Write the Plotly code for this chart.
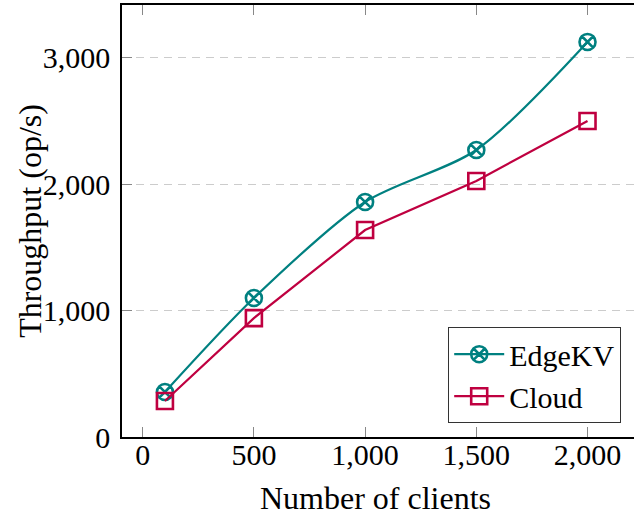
import plotly.graph_objects as go

clients = [100, 500, 1000, 1500, 2000]
edgekv = [356, 1099, 1858, 2269, 3123]
cloud = [285, 940, 1636, 2024, 2498]
y_ticks = [0, 1000, 2000, 3000]
x_ticks = [0, 500, 1000, 1500, 2000]

TEAL = "#008080"
PURPLE = "#BF0040"
FONT = "Liberation Serif"

fig = go.Figure()
fig.add_trace(go.Scatter(
    x=clients, y=edgekv, name="EdgeKV", mode="lines+markers",
    line=dict(color=TEAL, width=2.2, shape="spline", smoothing=0.8),
    marker=dict(symbol="circle-x-open", size=16, color=TEAL, line=dict(width=2.6, color=TEAL)),
))
fig.add_trace(go.Scatter(
    x=clients, y=cloud, name="Cloud", mode="lines+markers",
    line=dict(color=PURPLE, width=2.2),
    marker=dict(symbol="square-open", size=16, color=PURPLE, line=dict(width=2.6, color=PURPLE)),
))

fig.update_layout(
    width=634, height=516,
    margin=dict(l=122, r=0, t=5, b=79, autoexpand=False),
    paper_bgcolor="white", plot_bgcolor="white",
    font=dict(family=FONT, size=30, color="black"),
    showlegend=True,
    legend=dict(
        x=0.975, y=0.032, xanchor="right", yanchor="bottom",
        bordercolor="#333333", borderwidth=1, bgcolor="white",
        font=dict(family=FONT, size=30), tracegroupgap=0, itemwidth=50,
    ),
    xaxis=dict(
        range=[-93, 2209], tickvals=x_ticks, tickformat=",d", automargin=False,
        ticks="inside", ticklen=10, tickcolor="#888888", tickwidth=1,
        showline=True, linecolor="black", linewidth=1.5, mirror="ticks",
        showgrid=False, zeroline=False, ticklabelstandoff=-10,
        tickfont=dict(family=FONT, size=30),
    ),
    yaxis=dict(
        range=[0, 3415], tickvals=y_ticks, tickformat=",d", automargin=False,
        ticks="inside", ticklen=10, tickcolor="#888888", tickwidth=1,
        showline=True, linecolor="black", linewidth=1.5,
        showgrid=True, gridcolor="#cccccc", griddash="8px,6px", gridwidth=1,
        zeroline=False, ticklabelstandoff=4,
        tickfont=dict(family=FONT, size=30),
    ),
    annotations=[
        dict(text="Number of clients", xref="paper", yref="paper", x=0.496, y=-0.141,
             xanchor="center", yanchor="middle", showarrow=False,
             font=dict(family=FONT, size=32)),
        dict(text="Throughput (op/s)", xref="paper", yref="paper", x=-0.18, y=0.5,
             xanchor="center", yanchor="middle", showarrow=False, textangle=-90,
             font=dict(family=FONT, size=32)),
    ],
)

fig.write_html("out.html", config={"displayModeBar": False})

with open("out.html", "r", encoding="utf-8") as f:
    html = f.read()
html = html.replace("<head>", "<head><style>html,body{margin:0;padding:0;overflow:hidden;}</style>", 1)
with open("out.html", "w", encoding="utf-8") as f:
    f.write(html)
